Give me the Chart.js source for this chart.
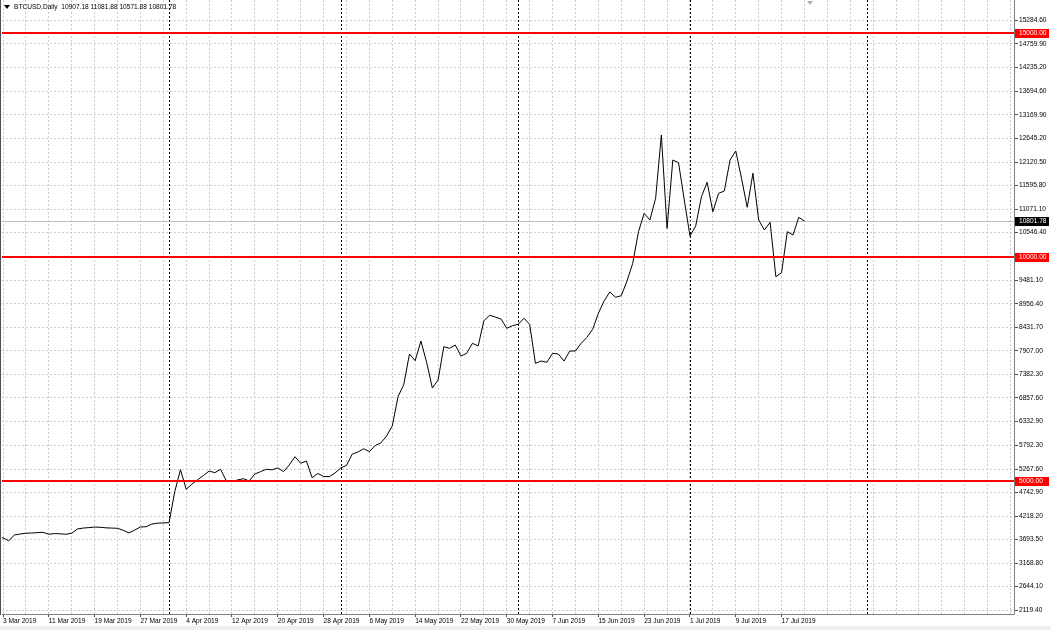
<!DOCTYPE html>
<html>
<head>
<meta charset="utf-8">
<script src="https://cdn.jsdelivr.net/npm/chart.js@4"></script>
<style>
  html, body { margin: 0; padding: 0; background: #fff; }
  #wrap { width: 1051px; height: 630px; position: relative; }
</style>
</head>
<body>
<div id="wrap"><canvas id="chart" width="1051" height="630"></canvas></div>
<script>
// BTCUSD daily closes, first value is 2 Mar 2019 (day 0 = 3 Mar 2019)
const symbolTitle = "BTCUSD,Daily  10907.18 11081.88 10571.88 10801.78";
const firstDay = -1;
const closes = [
  3770, 3730, 3668, 3795, 3818, 3835, 3840, 3848, 3855, 3812,
  3828, 3822, 3812, 3835, 3930, 3950, 3960, 3972, 3968, 3955,
  3950, 3945, 3900, 3842, 3905, 3974, 3980, 4040, 4060, 4065,
  4070, 4762, 5253, 4815, 4930, 5030, 5120, 5224, 5186, 5262,
  5007, 4985, 5025, 5052, 5001, 5157, 5210, 5262, 5250, 5295,
  5208, 5358, 5543, 5396, 5447, 5074, 5170, 5100, 5097, 5180,
  5290, 5350, 5600, 5648, 5720, 5655, 5790, 5850, 6005, 6230,
  6882, 7150, 7835, 7686, 8125, 7650, 7076, 7255, 7998, 7962,
  8036, 7791, 7851, 8074, 8014, 8578, 8699, 8660, 8616, 8409,
  8467, 8498, 8632, 8498, 7628, 7679, 7650, 7851, 7835, 7679,
  7902, 7902, 8074, 8208, 8387, 8744, 9020, 9220, 9101, 9137,
  9465, 9860, 10565, 10976, 10826, 11310, 12723, 10641, 12165, 12105,
  11273, 10469, 10692, 11346, 11668, 11011, 11422, 11473, 12165, 12366,
  11757, 11110, 11869, 10826, 10603, 10775, 9561, 9650, 10565, 10491,
  10886, 10801.78
];

// date labels every 8 days starting at day 0
const dateLabels = [
  "3 Mar 2019", "11 Mar 2019", "19 Mar 2019", "27 Mar 2019", "4 Apr 2019",
  "12 Apr 2019", "20 Apr 2019", "28 Apr 2019", "6 May 2019", "14 May 2019",
  "22 May 2019", "30 May 2019", "7 Jun 2019", "15 Jun 2019", "23 Jun 2019",
  "1 Jul 2019", "9 Jul 2019", "17 Jul 2019"
];
const labelStep = 8;

const priceTicks = [
  15284.60, 14759.90, 14235.20, 13694.60, 13169.90, 12645.20, 12120.50,
  11595.80, 11071.10, 10546.40, 9481.10, 8956.40, 8431.70, 7907.00,
  7382.30, 6857.60, 6332.90, 5792.30, 5267.60, 4742.90, 4218.20,
  3693.50, 3168.80, 2644.10, 2119.40
];

// first day of each month (period separators)
const monthStarts = [29, 59, 90, 120, 151];
const levels = [15000, 10000, 5000];
const lastPrice = 10801.78;

const FONT = "Liberation Sans";
const FSIZE = 6.6;

const noPad = (s) => {
  s.paddingTop = 0;
  s.paddingBottom = 0;
  s.paddingLeft = 0;
  s.paddingRight = 0;
};

const overlay = {
  id: "overlay",
  beforeDatasetsDraw(chart) {
    const { ctx, chartArea: a, scales: { x, y } } = chart;
    ctx.save();
    // monthly separators
    ctx.strokeStyle = "#000";
    ctx.lineWidth = 1;
    ctx.setLineDash([2, 2]);
    monthStarts.forEach((d) => {
      const px = Math.round(x.getPixelForValue(d)) + 0.5;
      ctx.beginPath();
      ctx.moveTo(px, a.top);
      ctx.lineTo(px, a.bottom);
      ctx.stroke();
    });
    ctx.setLineDash([]);
    // current price line
    const py = Math.round(y.getPixelForValue(lastPrice)) + 0.5;
    ctx.strokeStyle = "#c0c0c0";
    ctx.beginPath();
    ctx.moveTo(a.left, py);
    ctx.lineTo(a.right, py);
    ctx.stroke();
    ctx.restore();
  },
  afterDraw(chart) {
    const { ctx, chartArea: a, scales: { x, y } } = chart;
    ctx.save();
    // horizontal levels
    ctx.strokeStyle = "#ff0000";
    ctx.lineWidth = 2;
    levels.forEach((v) => {
      const py = Math.round(y.getPixelForValue(v));
      ctx.beginPath();
      ctx.moveTo(a.left, py);
      ctx.lineTo(a.right, py);
      ctx.stroke();
    });

    // axis lines and frame
    ctx.lineWidth = 1;
    ctx.strokeStyle = "#808080";
    ctx.beginPath();
    ctx.moveTo(a.right + 0.5, 0);
    ctx.lineTo(a.right + 0.5, a.bottom + 0.5);
    ctx.lineTo(a.left, a.bottom + 0.5);
    ctx.stroke();
    ctx.strokeStyle = "#505050";
    ctx.beginPath();
    ctx.moveTo(0.5, 0);
    ctx.lineTo(0.5, a.bottom + 1);
    ctx.stroke();
    ctx.fillStyle = "#f0f0f0";
    ctx.fillRect(0, 626, chart.width, 4);

    // price boxes on the right axis
    ctx.font = FSIZE + "px '" + FONT + "'";
    ctx.textBaseline = "middle";
    ctx.textAlign = "left";
    const box = (v, color) => {
      const py = Math.round(y.getPixelForValue(v));
      ctx.fillStyle = color;
      ctx.fillRect(a.right + 1, py - 4, 34, 9);
      ctx.fillStyle = "#fff";
      ctx.fillText(v.toFixed(2), a.right + 5, py + 0.5);
    };
    levels.forEach((v) => box(v, "#ff0000"));
    box(lastPrice, "#000");

    // title
    ctx.fillStyle = "#000";
    ctx.beginPath();
    ctx.moveTo(4, 5);
    ctx.lineTo(10, 5);
    ctx.lineTo(7, 9);
    ctx.closePath();
    ctx.fill();
    ctx.fillText(symbolTitle, 14, 7.5);

    // chart shift marker
    const sx = Math.round(x.getPixelForValue(closes.length + firstDay));
    ctx.fillStyle = "#b0b0b0";
    ctx.beginPath();
    ctx.moveTo(sx - 3, 1);
    ctx.lineTo(sx + 3, 1);
    ctx.lineTo(sx, 5);
    ctx.closePath();
    ctx.fill();
    ctx.restore();
  }
};

const ctx = document.getElementById("chart").getContext("2d");
new Chart(ctx, {
  type: "line",
  data: {
    datasets: [
      {
        data: closes.map((v, i) => ({ x: i + firstDay, y: v })),
        borderColor: "#000",
        borderWidth: 1,
        pointRadius: 0,
        tension: 0,
      },
    ],
  },
  options: {
    responsive: false,
    animation: false,
    layout: { padding: { left: 2, top: 0, right: 0, bottom: 0 } },
    plugins: { legend: { display: false }, tooltip: { enabled: false } },
    scales: {
      x: {
        type: "linear",
        min: -0.175,
        max: 176.6,
        afterBuildTicks: (s) => {
          const t = [];
          for (let d = 0; d <= 176; d += 4) t.push({ value: d });
          s.ticks = t;
        },
        afterFit: (s) => { s.height = 16; noPad(s); },
        border: { display: false, dash: [2, 2] },
        grid: {
          color: "#cccccc",
          lineWidth: 1,
          tickLength: 3,
          tickBorderDash: [],
          tickColor: (c) => {
            const v = c.tick ? c.tick.value : -1;
            return v % labelStep === 0 && v / labelStep < dateLabels.length ? "#505050" : "rgba(0,0,0,0)";
          },
        },
        ticks: {
          autoSkip: false,
          maxRotation: 0,
          align: "start",
          padding: 0,
          color: "#000",
          font: { family: FONT, size: FSIZE },
          callback: (v) => (v % labelStep === 0 ? dateLabels[v / labelStep] || "" : ""),
        },
      },
      y: {
        type: "linear",
        position: "right",
        min: 2032.1,
        max: 15736.6,
        afterBuildTicks: (s) => { s.ticks = priceTicks.map((v) => ({ value: v })); },
        afterFit: (s) => { s.width = 37; noPad(s); },
        border: { display: false, dash: [2, 2] },
        grid: {
          color: "#cccccc",
          lineWidth: 1,
          tickLength: 4,
          tickBorderDash: [],
          tickColor: "#505050",
        },
        ticks: {
          autoSkip: false,
          padding: 1,
          color: "#000",
          font: { family: FONT, size: FSIZE },
          callback: (v) => Number(v).toFixed(2),
        },
      },
    },
  },
  plugins: [overlay],
});
</script>
</body>
</html>
